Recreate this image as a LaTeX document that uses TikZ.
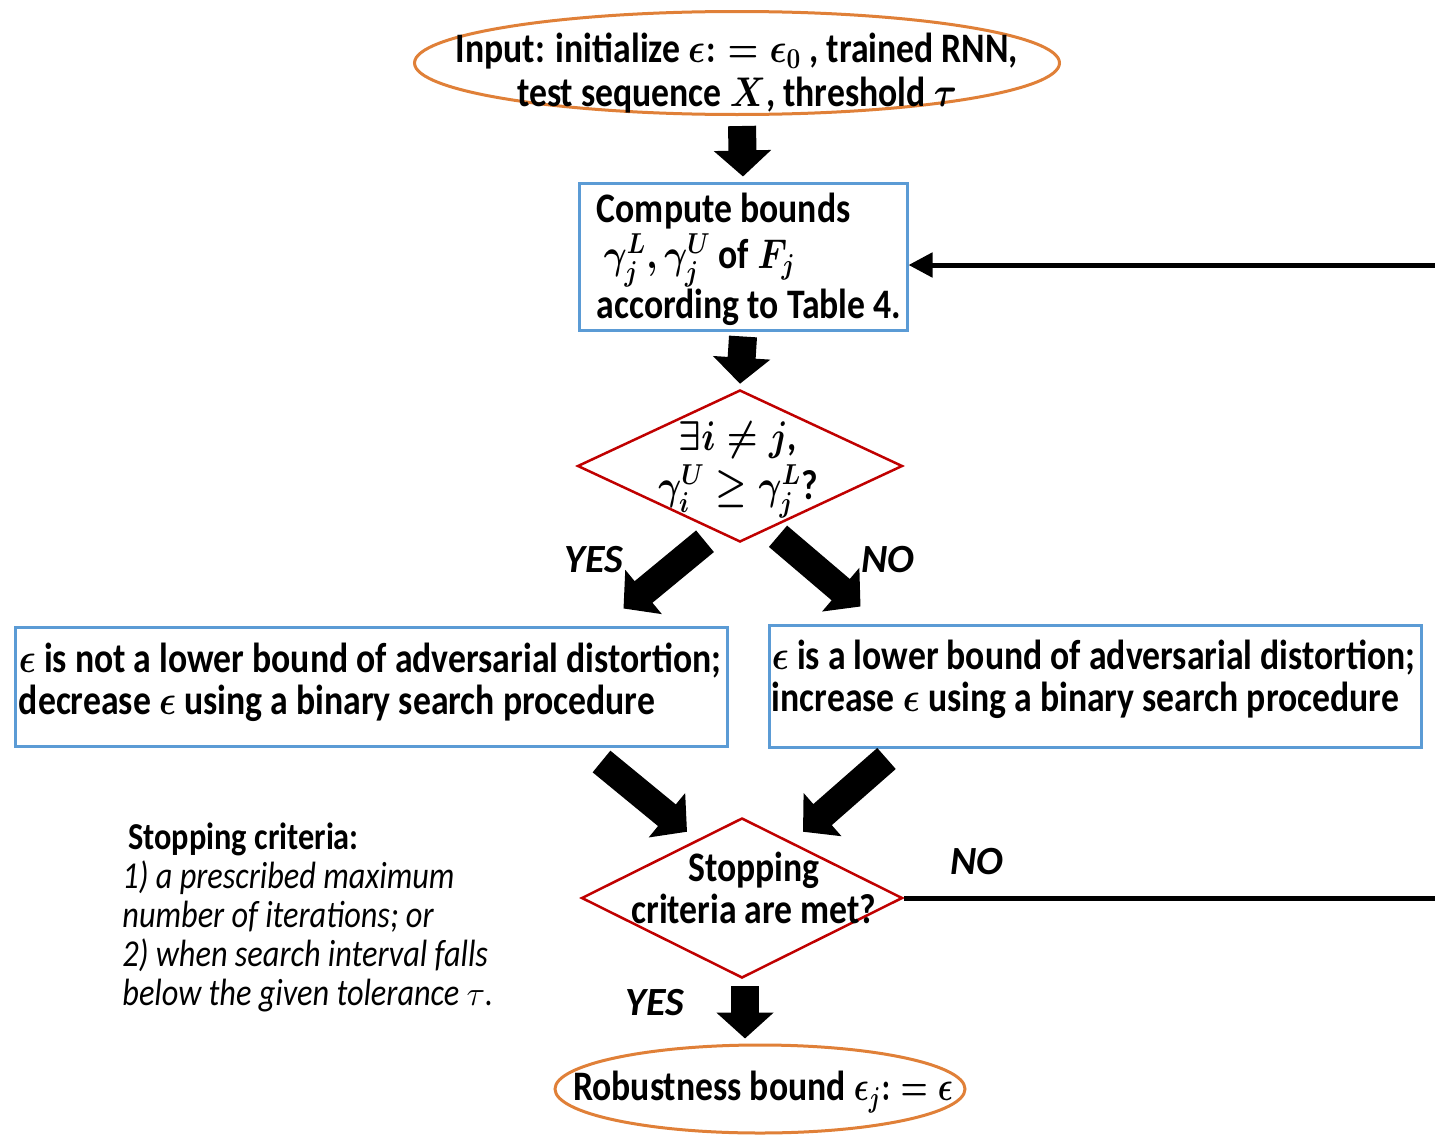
\documentclass[tikz,border=0pt]{standalone}
\usepackage{amsmath,amssymb,graphicx}
\usepackage{fontspec}
\setmainfont{Carlito}[FakeStretch=0.85]
\newfontfamily\lblfont{Carlito}
\newcommand\mm[1]{\scalebox{0.85}[1]{$#1$}}
\newcommand\ms[1]{\scalebox{0.75}[1]{$#1$}}
\usetikzlibrary{shapes.geometric,arrows.meta,calc}
\definecolor{orng}{RGB}{224,128,56}
\definecolor{blu}{RGB}{91,155,213}
\definecolor{rd}{RGB}{192,0,0}
\begin{document}
\begin{tikzpicture}[x=0.5pt,y=-0.5pt,
  term/.style={ellipse, draw=orng, line width=1.5pt, inner sep=0pt},
  blk/.style={rectangle, draw=blu, line width=1.5pt, inner sep=0pt},
  dec/.style={diamond, draw=rd, line width=1.25pt, inner sep=0pt},
  txt/.style={font=\fontsize{21}{21}\selectfont\bfseries\boldmath, align=center},
  ltxt/.style={txt, align=left, anchor=west, inner sep=0pt},
  fat/.style={line width=14pt, -{Triangle[width=28pt,length=13pt]}},
  fb/.style={line width=2.5pt},
  lbl/.style={font=\fontsize{20}{22}\selectfont\lblfont\bfseries\itshape},
  note/.style={font=\fontsize{19}{19.5}\selectfont, align=left, inner sep=0pt}]
\clip (0,0) rectangle (1435,1135);
\fill[white] (0,0) rectangle (1435,1135);
% nodes
\node[term, minimum width=322.5pt, minimum height=51.5pt,
  label={[txt, yshift=-5pt]center:{Input: initialize \mm{\epsilon{:}=\epsilon_0} , trained RNN,\\[1pt] test sequence \mm{X}, threshold \mm{\tau}}}] (in) at (737,63) {};
\node[blk, minimum width=164pt, minimum height=73.5pt,
  label={[ltxt, font=\fontsize{21}{23}\selectfont\bfseries\boldmath, xshift=9.5pt, yshift=-1.5pt]west:{Compute bounds\\ \,\mm{\gamma_j^L, \gamma_j^U} of \mm{F_j}\\ according to Table 4.}}] (cb) at (743,256.5) {};
\node[dec, minimum width=162.5pt, minimum height=76pt,
  label={[txt, yshift=-2pt, xshift=-1pt]center:{\mm{\exists i \neq j},\\[2pt] \mm{\gamma_i^U \geq \gamma_j^L}?}}] (d1) at (740,466) {};
\node[blk, minimum width=356pt, minimum height=59.5pt,
  label={[ltxt, xshift=2.5pt, yshift=2pt]west:{\mm{\epsilon} is not a lower bound of adversarial distortion;\\ decrease \mm{\epsilon} using a binary search procedure}}] (lb) at (371,686.5) {};
\node[blk, minimum width=326pt, minimum height=61pt,
  label={[ltxt, xshift=2pt, yshift=3.5pt]west:{\mm{\epsilon} is a lower bound of adversarial distortion;\\ increase \mm{\epsilon} using a binary search procedure}}] (rb) at (1095,686) {};
\node[dec, minimum width=160.5pt, minimum height=80pt,
  label={[txt, yshift=5pt, xshift=6pt]center:{Stopping\\ criteria are met?}}] (d2) at (742,898) {};
\node[term, minimum width=205pt, minimum height=44pt,
  label={[txt, yshift=-1.5pt, xshift=1.5pt]center:{Robustness bound \ms{\epsilon_j{:}=\epsilon}}}] (be) at (760,1089) {};
\node[note, anchor=north west] (sc) at (122,822)
  {\hspace{3pt}\textbf{Stopping criteria:}\\ \textit{1) a prescribed maximum}\\ \textit{number of iterations; or}\\ \textit{2) when search interval falls}\\ \textit{below the given tolerance $\tau$.}};
% labels
\node[lbl] (y1) at (594,560) {YES};
\node[lbl] (n1) at (888,560) {NO};
\node[lbl] (n2) at (977,862) {NO};
\node[lbl] (y2) at (655,1003) {YES};
% fat arrows
\draw[fat] ([xshift=2.5pt,yshift=-5pt]in.south) -- ([yshift=2.5pt]cb.north);
\draw[fat] ([yshift=-2.5pt]cb.south) -- ([yshift=2.5pt]d1.north);
\draw[fat] ([xshift=-17.5pt,yshift=1pt]d1.south) -- ([xshift=-52.5pt,yshift=8.5pt]lb.north east);
\draw[fat] ([xshift=19pt,yshift=3.5pt]d1.south) -- ([xshift=46.5pt,yshift=8.5pt]rb.north west);
\draw[fat] ([xshift=-63.5pt,yshift=-7pt]lb.south east) -- ([xshift=-27.5pt,yshift=-7.5pt]d2.north);
\draw[fat] ([xshift=59.5pt,yshift=-5pt]rb.south west) -- ([xshift=30.5pt,yshift=-7.5pt]d2.north);
\draw[fat] ([xshift=1.5pt,yshift=-3.5pt]d2.south) -- ([xshift=-7.5pt,yshift=2.5pt]be.north);
% feedback loop
\coordinate (rbot) at (1445,899);
\coordinate (rtop) at (1445,265);
\draw[fb, -{Triangle[width=12pt,length=12pt]}] (d2.east) -- (d2.east -| rbot) -- (rtop) -- (rtop -| cb.east);
\end{tikzpicture}
\end{document}
